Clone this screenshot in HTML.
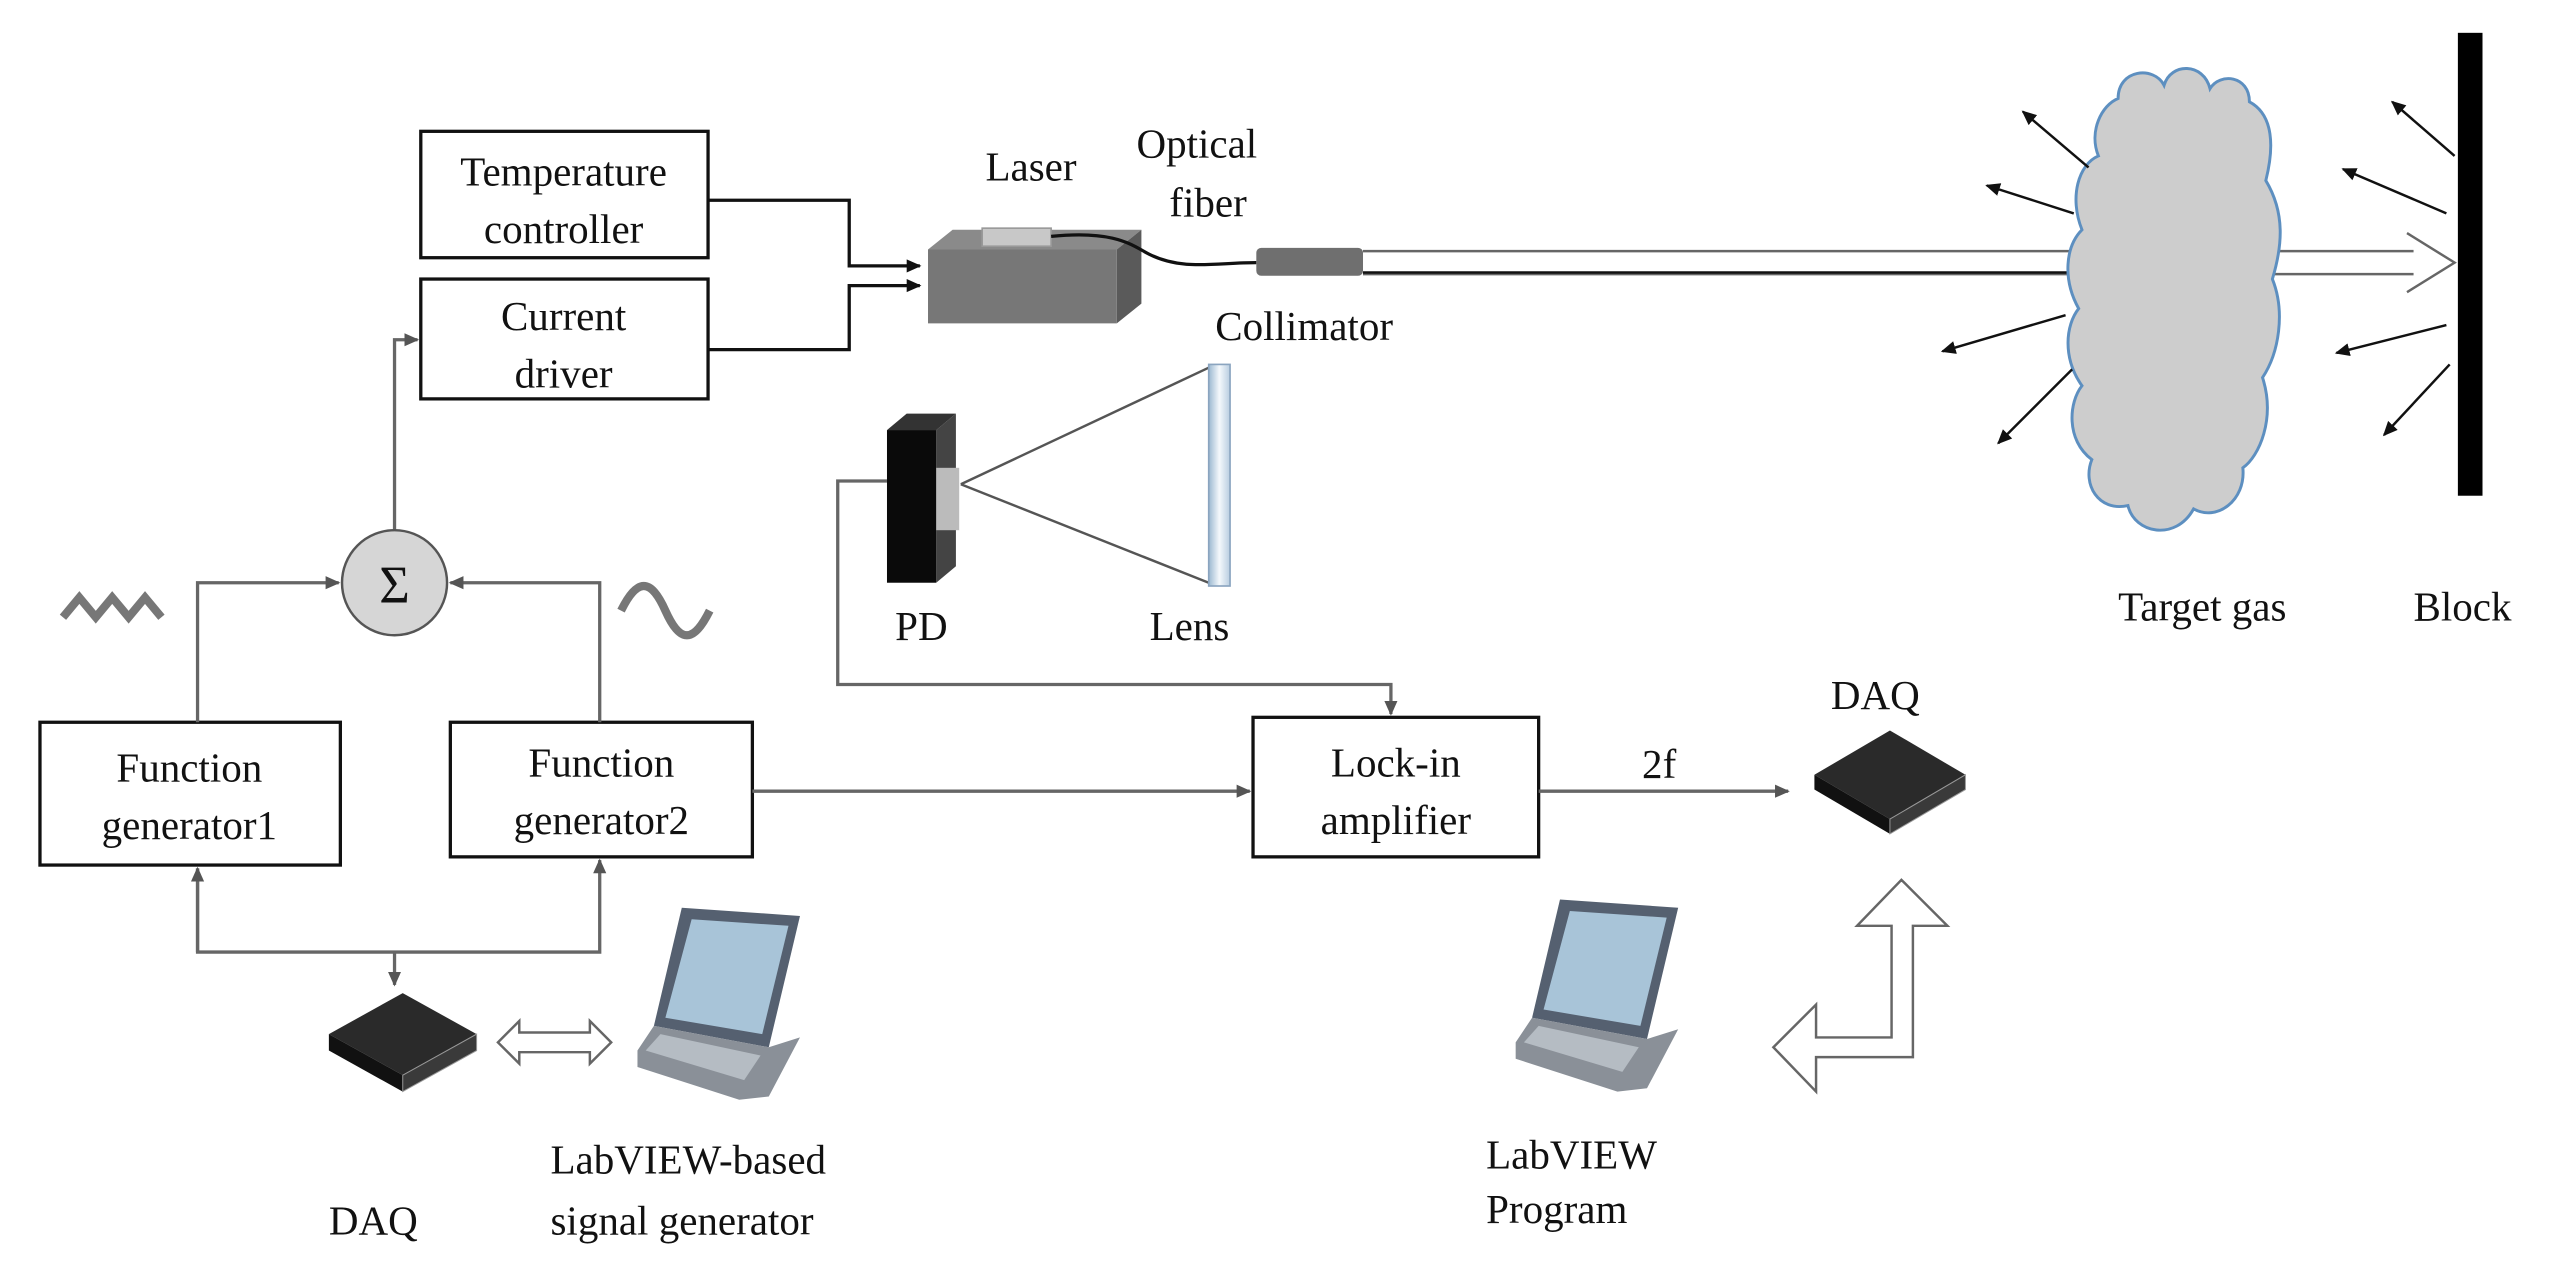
<!DOCTYPE html>
<html><head><meta charset="utf-8"><style>
html,body{margin:0;padding:0;background:#fff;}
svg{display:block;}
svg text{font-family:"Liberation Serif","DejaVu Serif","Times New Roman",serif !important;font-size:25px;fill:#111;}
</style></head><body>
<svg width="2575" height="1282" viewBox="0 0 1568 781" xmlns="http://www.w3.org/2000/svg" font-family="'Liberation Serif', serif">
<defs>
<marker id="ah" markerWidth="10" markerHeight="10" refX="8" refY="5" orient="auto" markerUnits="userSpaceOnUse"><path d="M0,1 L9,5 L0,9 z" fill="#555"/></marker>
<marker id="ak" markerWidth="10" markerHeight="10" refX="8" refY="5" orient="auto" markerUnits="userSpaceOnUse"><path d="M0,1 L9,5 L0,9 z" fill="#111"/></marker>
<linearGradient id="lens" x1="0" x2="1"><stop offset="0" stop-color="#9bb8d0"/><stop offset="0.5" stop-color="#f4f8fc"/><stop offset="1" stop-color="#b8cde0"/></linearGradient>
</defs>

<g fill="none" stroke="#111" stroke-width="2">
<rect x="256" y="80" width="175" height="77"/>
<rect x="256" y="170" width="175" height="73"/>
<rect x="24" y="440" width="183" height="87"/>
<rect x="274" y="440" width="184" height="82"/>
<rect x="763" y="437" width="174" height="85"/>
</g>
<g text-anchor="middle">
<text x="343" y="113">Temperature</text>
<text x="343" y="148">controller</text>
<text x="343" y="201">Current</text>
<text x="343" y="236">driver</text>
<text x="115" y="476">Function</text>
<text x="115" y="511">generator1</text>
<text x="366" y="473">Function</text>
<text x="366" y="508">generator2</text>
<text x="850" y="473">Lock-in</text>
<text x="850" y="508">amplifier</text>
</g>

<g fill="none" stroke="#111" stroke-width="2">
<path d="M431,122 H517 V162 H560" marker-end="url(#ak)"/>
<path d="M431,213 H517 V174 H560" marker-end="url(#ak)"/>
</g>

<polygon points="565,152 580,140 695,140 680,152" fill="#8a8a8a"/>
<polygon points="680,152 695,140 695,185 680,197" fill="#5a5a5a"/>
<rect x="565" y="152" width="115" height="45" fill="#777"/>
<rect x="598" y="139" width="42" height="11" fill="#c8c8c8" stroke="#999"/>
<path d="M640,144 C680,140 690,150 700,155 C720,165 740,160 765,160" fill="none" stroke="#111" stroke-width="2"/>
<rect x="765" y="151" width="65" height="17" rx="3" fill="#6f6f6f"/>
<text x="600" y="110">Laser</text>
<text x="692" y="96">Optical</text>
<text x="712" y="132">fiber</text>
<text x="740" y="207">Collimator</text>

<g stroke="#666" stroke-width="1.5" fill="none">
<line x1="830" y1="153" x2="1470" y2="153"/>
<line x1="830" y1="167" x2="1470" y2="167"/>
<path d="M1466,142 L1495,160 L1466,178"/>
</g>
<line x1="830" y1="166" x2="1270" y2="166" stroke="#111" stroke-width="1.5"/>

<path d="M1290,60 C1290,42 1312,40 1318,52 C1322,38 1342,38 1346,54 C1352,44 1370,46 1370,62 C1385,70 1385,90 1380,110 C1392,130 1390,150 1384,170 C1392,190 1388,215 1378,230 C1386,255 1376,278 1366,285 C1368,305 1350,318 1336,310 C1325,330 1300,325 1296,308 C1278,312 1268,295 1274,280 C1258,268 1260,245 1268,235 C1256,218 1258,198 1266,188 C1256,170 1258,150 1268,140 C1260,120 1266,100 1278,95 C1272,80 1280,64 1290,60 Z" fill="#cdcdcd" stroke="#5d8fc0" stroke-width="1.8"/>
<rect x="1497" y="20" width="15" height="282" fill="#000"/>

<g stroke="#111" stroke-width="1.5" marker-end="url(#ak)">
<line x1="1272" y1="102" x2="1232" y2="68"/>
<line x1="1263" y1="130" x2="1210" y2="113"/>
<line x1="1258" y1="192" x2="1183" y2="214"/>
<line x1="1262" y1="225" x2="1217" y2="270"/>
<line x1="1495" y1="95" x2="1457" y2="62"/>
<line x1="1490" y1="130" x2="1427" y2="103"/>
<line x1="1490" y1="198" x2="1423" y2="215"/>
<line x1="1492" y1="222" x2="1452" y2="265"/>
</g>
<text x="1290" y="378">Target gas</text>
<text x="1470" y="378">Block</text>

<polygon points="540,262 552,252 582,252 570,262" fill="#333"/>
<polygon points="570,262 582,252 582,345 570,355" fill="#444"/>
<rect x="540" y="262" width="30" height="93" fill="#0a0a0a"/>
<rect x="570" y="285" width="14" height="38" fill="#bbb"/>
<g stroke="#555" stroke-width="1.5"><line x1="585" y1="295" x2="736" y2="224"/><line x1="585" y1="295" x2="736" y2="355"/></g>
<rect x="736" y="222" width="13" height="135" fill="url(#lens)" stroke="#8aa4bf"/>
<text x="545" y="390">PD</text>
<text x="700" y="390">Lens</text>

<g fill="none" stroke="#666" stroke-width="2">
<path d="M540,293 H510 V417 H847 V435" marker-end="url(#ah)"/>
<path d="M240,323 V207 H254" marker-end="url(#ah)"/>
<path d="M120,440 V355 H206" marker-end="url(#ah)"/>
<path d="M365,440 V355 H274" marker-end="url(#ah)"/>
<path d="M458,482 H761" marker-end="url(#ah)"/>
<path d="M937,482 H1089" marker-end="url(#ah)"/>
<path d="M120,529 V580 H365 V524" marker-end="url(#ah)"/>
<path d="M120,580 V529" marker-end="url(#ah)"/>
<path d="M240,580 V600" marker-end="url(#ah)"/>
</g>
<circle cx="240" cy="355" r="32" fill="#d6d6d6" stroke="#555" stroke-width="1.5"/>
<text x="240" y="367" text-anchor="middle" style="font-size:32px">Σ</text>
<text x="1000" y="474">2f</text>

<path d="M38,376 L48,364 L58,376 L68,364 L78,376 L88,364 L98,376" fill="none" stroke="#777" stroke-width="5"/>
<path d="M378,372 C388,352 396,352 405,372 C414,392 422,392 432,372" fill="none" stroke="#777" stroke-width="5"/>

<g>
<polygon points="245,605 290,630 245,655 200,630" fill="#2a2a2a"/>
<polygon points="200,630 245,655 245,665 200,640" fill="#111"/>
<polygon points="245,655 290,630 290,640 245,665" fill="#3a3a3a" stroke="#999" stroke-width="0.6"/>
</g>
<g>
<polygon points="1151,445 1197,472 1151,499 1105,472" fill="#2a2a2a"/>
<polygon points="1105,472 1151,499 1151,508 1105,481" fill="#111"/>
<polygon points="1151,499 1197,472 1197,481 1151,508" fill="#3a3a3a" stroke="#999" stroke-width="0.6"/>
</g>
<text x="1115" y="432">DAQ</text>
<text x="200" y="752">DAQ</text>

<path d="M303,635 L316,622 V629 H359 V622 L372,635 L359,648 V641 H316 V648 Z" fill="#fff" stroke="#666" stroke-width="1.5"/>
<path d="M1158,536 L1186,564 L1165,564 L1165,644 L1106,644 L1106,665 L1080,638 L1106,612 L1106,632 L1152,632 L1152,564 L1131,564 Z" fill="#fff" stroke="#666" stroke-width="1.5"/>

<g id="lap">
<polygon points="415,553 487,558 468,638 398,625" fill="#556070"/>
<polygon points="421,560 480,564 464,630 405,620" fill="#a8c4d8"/>
<polygon points="388,640 398,625 468,638 487,632 468,668 450,670 388,650" fill="#8a9098"/>
<polygon points="393,640 402,630 463,643 453,658" fill="#b5bcc3"/>
</g>
<use href="#lap" transform="translate(535,-5)"/>

<text x="335" y="715">LabVIEW-based</text>
<text x="335" y="752">signal generator</text>
<text x="905" y="712">LabVIEW</text>
<text x="905" y="745">Program</text>
</svg>
</body></html>
